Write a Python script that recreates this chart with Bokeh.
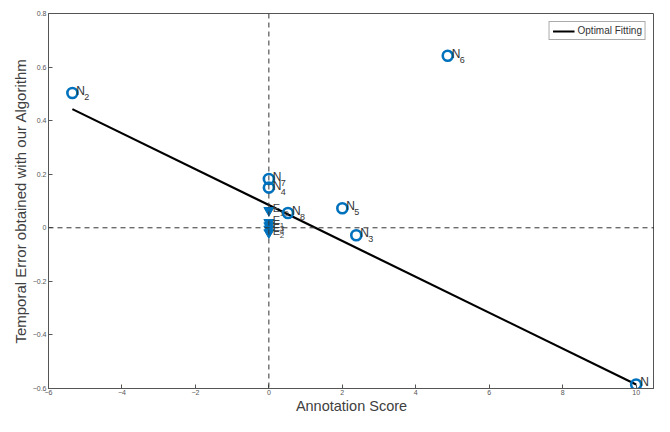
from bokeh.plotting import figure
from bokeh.models import Span, Legend, LegendItem, ColumnDataSource, FixedTicker
from bokeh.core.properties import value
from bokeh.embed import file_html
from bokeh.resources import INLINE

# Data
n_x = [-5.35, 4.87, 0.0, 0.0, 0.52, 2.0, 2.38, 10.0]
n_y = [0.503, 0.642, 0.182, 0.150, 0.055, 0.073, -0.028, -0.585]
n_sub = ["2", "6", "7", "4", "8", "5", "3", ""]

e_x = [0.0, 0.0, 0.0, 0.0, 0.0]
e_y = [0.065, 0.020, 0.008, -0.004, -0.018]
e_sub = ["10", "1", "3", "4", "2"]

fit_x = [-5.35, 10.0]
fit_y = [0.443, -0.585]

x_ticks = [-6, -4, -2, 0, 2, 4, 6, 8, 10]
y_ticks = [-0.6, -0.4, -0.2, 0, 0.2, 0.4, 0.6, 0.8]

FONT = "Liberation Sans"
BLUE = "#0072BD"

p = figure(width=654, height=416, x_range=(-6, 10.5), y_range=(-0.6, 0.8),
           output_backend="svg", toolbar_location=None,
           min_border_left=48, min_border_right=0, min_border_top=13, min_border_bottom=24)
p.grid.visible = False
p.outline_line_color = "#555555"
p.background_fill_color = "white"

for ax in (p.xaxis[0], p.yaxis[0]):
    ax.major_tick_in = 4
    ax.major_tick_out = 0
    ax.minor_tick_line_color = None
    ax.axis_line_color = "#555555"
    ax.major_tick_line_color = "#555555"
    ax.major_label_text_font = FONT
    ax.major_label_text_font_size = "7px"
    ax.major_label_text_color = "#555555"
    ax.axis_label_text_font = FONT
    ax.axis_label_text_font_size = "15px"
    ax.axis_label_text_font_style = "normal"
    ax.axis_label_text_color = "#404040"
    ax.major_label_standoff = 2
    ax.axis_label_standoff = 1

p.xaxis.major_label_standoff = 1
p.xaxis.axis_label_standoff = 0
p.xaxis.axis_label_text_font_size = "14.5px"

p.xaxis.ticker = FixedTicker(ticks=x_ticks)
p.yaxis.ticker = FixedTicker(ticks=y_ticks)
p.xaxis.axis_label = "Annotation Score"
p.yaxis.axis_label = "Temporal Error obtained with our Algorithm"

# reference dashed lines
p.add_layout(Span(location=0, dimension="width", line_color="#333333", line_dash="5 4", line_width=1))
p.add_layout(Span(location=0, dimension="height", line_color="#333333", line_dash="5 4", line_width=1))

# fit line
fit = p.line(fit_x, fit_y, line_color="black", line_width=2.2)

# E triangles
esrc = ColumnDataSource(dict(x=e_x, y=e_y, sub=e_sub, lab=["E"] * len(e_x)))
p.scatter("x", "y", source=esrc, marker="inverted_triangle", size=10,
          fill_color=BLUE, line_color=BLUE)
p.text("x", "y", text="lab", source=esrc, x_offset=4, y_offset=-2,
       text_font=value(FONT), text_font_size="11px", text_color="#404040",
       text_baseline="middle")
p.text("x", "y", text="sub", source=esrc, x_offset=11, y_offset=3,
       text_font=value(FONT), text_font_size="8px", text_color="#404040",
       text_baseline="middle")

# N circles
nsrc = ColumnDataSource(dict(x=n_x, y=n_y, sub=n_sub, lab=["N"] * len(n_x)))
p.scatter("x", "y", source=nsrc, marker="circle", size=10, fill_color=None,
          line_color=BLUE, line_width=2.6)
p.text("x", "y", text="lab", source=nsrc, x_offset=4, y_offset=-2,
       text_font=value(FONT), text_font_size="12px", text_color="#333333",
       text_baseline="middle")
p.text("x", "y", text="sub", source=nsrc, x_offset=12, y_offset=4,
       text_font=value(FONT), text_font_size="9px", text_color="#333333",
       text_baseline="middle")

legend = Legend(items=[LegendItem(label="Optimal Fitting", renderers=[fit])],
                location="top_right", label_text_font=FONT, label_text_font_size="10px",
                label_text_color="#333333", border_line_color="#555555",
                padding=3, spacing=0, margin=8, glyph_width=22, glyph_height=10,
                label_standoff=3, label_height=10)
p.add_layout(legend)

open("out.html", "w").write(file_html(p, INLINE))
